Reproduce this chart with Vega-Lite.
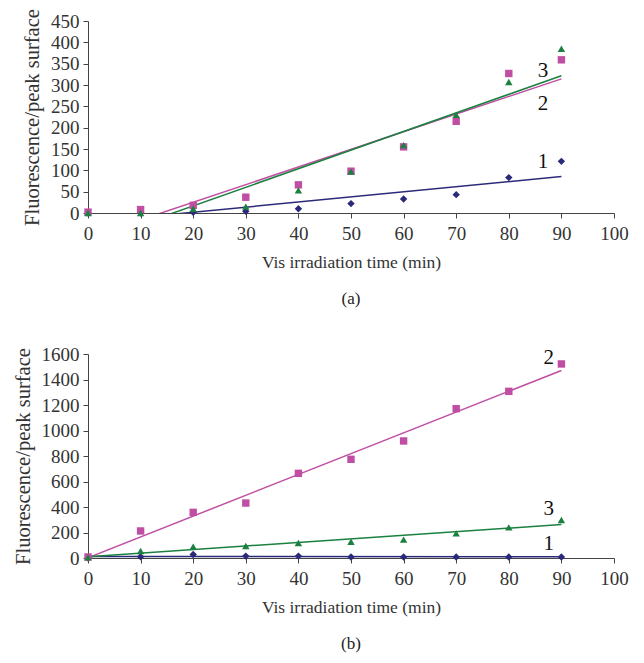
{
  "$schema": "https://vega.github.io/schema/vega-lite/v6.json",
  "background": "white",
  "padding": {"left": 13, "top": 8, "right": 10, "bottom": 5},
  "spacing": 38,
  "datasets": {
    "a": [
      {"t": 0, "v": 0, "s": "1"}, {"t": 10, "v": 0, "s": "1"}, {"t": 20, "v": 1.5, "s": "1"}, {"t": 30, "v": 4, "s": "1"}, {"t": 40, "v": 10, "s": "1"},
      {"t": 50, "v": 22, "s": "1"}, {"t": 60, "v": 33, "s": "1"}, {"t": 70, "v": 43, "s": "1"}, {"t": 80, "v": 83, "s": "1"}, {"t": 90, "v": 121, "s": "1"},
      {"t": 0, "v": 2, "s": "2"}, {"t": 10, "v": 8, "s": "2"}, {"t": 20, "v": 18, "s": "2"}, {"t": 30, "v": 37, "s": "2"}, {"t": 40, "v": 66, "s": "2"},
      {"t": 50, "v": 98, "s": "2"}, {"t": 60, "v": 155, "s": "2"}, {"t": 70, "v": 215, "s": "2"}, {"t": 80, "v": 327, "s": "2"}, {"t": 90, "v": 359, "s": "2"},
      {"t": 0, "v": 0, "s": "3"}, {"t": 10, "v": 0, "s": "3"}, {"t": 20, "v": 10, "s": "3"}, {"t": 30, "v": 15, "s": "3"}, {"t": 40, "v": 53, "s": "3"},
      {"t": 50, "v": 97, "s": "3"}, {"t": 60, "v": 159, "s": "3"}, {"t": 70, "v": 230, "s": "3"}, {"t": 80, "v": 307, "s": "3"}, {"t": 90, "v": 385, "s": "3"}
    ],
    "b": [
      {"t": 0, "v": 0, "s": "1"}, {"t": 10, "v": 10, "s": "1"}, {"t": 20, "v": 28, "s": "1"}, {"t": 30, "v": 15, "s": "1"}, {"t": 40, "v": 15, "s": "1"},
      {"t": 50, "v": 8, "s": "1"}, {"t": 60, "v": 8, "s": "1"}, {"t": 70, "v": 8, "s": "1"}, {"t": 80, "v": 8, "s": "1"}, {"t": 90, "v": 8, "s": "1"},
      {"t": 0, "v": 8, "s": "2"}, {"t": 10, "v": 212, "s": "2"}, {"t": 20, "v": 358, "s": "2"}, {"t": 30, "v": 431, "s": "2"}, {"t": 40, "v": 664, "s": "2"},
      {"t": 50, "v": 774, "s": "2"}, {"t": 60, "v": 918, "s": "2"}, {"t": 70, "v": 1171, "s": "2"}, {"t": 80, "v": 1307, "s": "2"}, {"t": 90, "v": 1522, "s": "2"},
      {"t": 0, "v": 5, "s": "3"}, {"t": 10, "v": 55, "s": "3"}, {"t": 20, "v": 89, "s": "3"}, {"t": 30, "v": 94, "s": "3"}, {"t": 40, "v": 118, "s": "3"},
      {"t": 50, "v": 128, "s": "3"}, {"t": 60, "v": 144, "s": "3"}, {"t": 70, "v": 193, "s": "3"}, {"t": 80, "v": 240, "s": "3"}, {"t": 90, "v": 298, "s": "3"}
    ],
    "la": [
      {"t": 86.5, "v": 333, "label": "3"}, {"t": 86.5, "v": 255, "label": "2"}, {"t": 86.5, "v": 119, "label": "1"}
    ],
    "lb": [
      {"t": 87.6, "v": 1569, "label": "2"}, {"t": 87.6, "v": 384, "label": "3"}, {"t": 87.6, "v": 110, "label": "1"}
    ]
  },
  "vconcat": [
    {
      "width": 526,
      "height": 192,
      "title": {"text": "(a)", "orient": "bottom", "offset": 20, "font": "Liberation Serif", "fontSize": 17, "fontWeight": "normal", "color": "#222"},
      "encoding": {
        "x": {"field": "t", "type": "quantitative", "scale": {"domain": [0, 100]}, "axis": {"values": [0,10,20,30,40,50,60,70,80,90,100], "labelOverlap": false, "title": "Vis irradiation time (min)"}},
        "y": {"field": "v", "type": "quantitative", "scale": {"domain": [0, 450]}, "axis": {"values": [0,50,100,150,200,250,300,350,400,450], "labelOverlap": false, "title": "Fluorescence/peak surface"}}
      },
      "layer": [
        {
          "data": {"name": "a"},
          "transform": [{"regression": "v", "on": "t", "groupby": ["s"], "extent": [0, 90]}],
          "mark": {"type": "line", "clip": true, "strokeWidth": 1.5},
          "encoding": {
            "color": {"field": "s", "type": "nominal", "scale": {"domain": ["1","2","3"], "range": ["#2a2a7a", "#c04fa3", "#1b8040"]}, "legend": null}
          }
        },
        {
          "data": {"name": "a"},
          "mark": {"type": "point", "filled": true, "opacity": 1},
          "encoding": {
            "color": {"field": "s", "type": "nominal", "legend": null},
            "shape": {"field": "s", "type": "nominal", "scale": {"domain": ["1","2","3"], "range": ["diamond", "square", "triangle-up"]}, "legend": null},
            "size": {"value": 55}
          }
        },
        {
          "data": {"name": "la"},
          "mark": {"type": "text", "font": "Liberation Serif", "fontSize": 21, "color": "#111"},
          "encoding": {
            "text": {"field": "label"}
          }
        }
      ]
    },
    {
      "width": 526,
      "height": 204,
      "title": {"text": "(b)", "orient": "bottom", "offset": 20, "font": "Liberation Serif", "fontSize": 17, "fontWeight": "normal", "color": "#222"},
      "encoding": {
        "x": {"field": "t", "type": "quantitative", "scale": {"domain": [0, 100]}, "axis": {"values": [0,10,20,30,40,50,60,70,80,90,100], "labelOverlap": false, "title": "Vis irradiation time (min)"}},
        "y": {"field": "v", "type": "quantitative", "scale": {"domain": [0, 1600]}, "axis": {"values": [0,200,400,600,800,1000,1200,1400,1600], "labelOverlap": false, "format": "d", "title": "Fluorescence/peak surface"}}
      },
      "layer": [
        {
          "data": {"name": "b"},
          "transform": [{"regression": "v", "on": "t", "groupby": ["s"], "extent": [0, 90]}],
          "mark": {"type": "line", "clip": true, "strokeWidth": 1.5},
          "encoding": {
            "color": {"field": "s", "type": "nominal", "scale": {"domain": ["1","2","3"], "range": ["#2a2a7a", "#c04fa3", "#1b8040"]}, "legend": null}
          }
        },
        {
          "data": {"name": "b"},
          "mark": {"type": "point", "filled": true, "opacity": 1},
          "encoding": {
            "color": {"field": "s", "type": "nominal", "legend": null},
            "shape": {"field": "s", "type": "nominal", "scale": {"domain": ["1","2","3"], "range": ["diamond", "square", "triangle-up"]}, "legend": null},
            "size": {"value": 55}
          }
        },
        {
          "data": {"name": "lb"},
          "mark": {"type": "text", "font": "Liberation Serif", "fontSize": 21, "color": "#111"},
          "encoding": {
            "text": {"field": "label"}
          }
        }
      ]
    }
  ],
  "resolve": {"scale": {"color": "independent", "shape": "independent"}},
  "config": {
    "view": {"stroke": null},
    "axis": {
      "grid": false,
      "labelFont": "Liberation Serif",
      "titleFont": "Liberation Serif",
      "labelFontSize": 19,
      "titleFontWeight": "normal",
      "labelColor": "#333",
      "titleColor": "#333",
      "domainColor": "#444",
      "tickColor": "#444",
      "tickSize": 5,
      "labelPadding": 4,
      "labelOverlap": false
    },
    "axisX": {"titlePadding": 10, "titleFontSize": 17.5, "labelFlush": false, "labelPadding": 6},
    "axisY": {"titlePadding": 8, "titleFontSize": 20.5}
  }
}
